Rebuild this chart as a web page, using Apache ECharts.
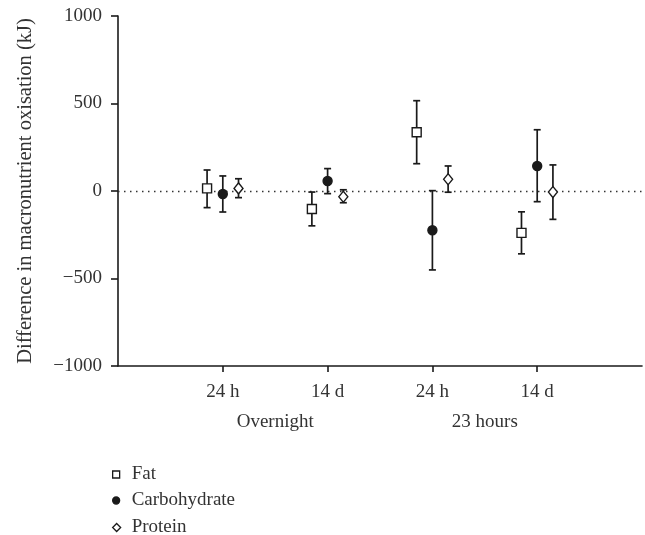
<!DOCTYPE html>
<html>
<head>
<meta charset="utf-8">
<script src="https://cdn.jsdelivr.net/npm/echarts@6/dist/echarts.min.js"></script>
<style>html,body{margin:0;padding:0;background:#fff}#c{width:645px;height:535px}</style>
</head>
<body>
<div id="c"></div>
<script>
// Data
const tickLabels = ['24 h', '14 d', '24 h', '14 d'];
const groupLabels = ['Overnight', '23 hours'];
const seriesNames = ['Fat', 'Carbohydrate', 'Protein'];

const fatMean = [15, -103, 336, -239];
const fatLow = [-95, -199, 156, -359];
const fatHigh = [120, -6, 516, -119];

const carbMean = [-17, 57, -224, 143];
const carbLow = [-120, -15, -451, -61];
const carbHigh = [86, 128, 2, 350];

const protMean = [15, -33, 67, -6];
const protLow = [-38, -67, -7, -162];
const protHigh = [70, 7, 143, 149];

// build
const FONT = 'Liberation Serif';
const INK = '#1a1a1a';
const offsets = [-0.15, 0, 0.15];
const means = [fatMean, carbMean, protMean];
const lows = [fatLow, carbLow, protLow];
const highs = [fatHigh, carbHigh, protHigh];
const symbols = ['rect', 'circle', 'diamond'];
const symSizes = [[9, 9], 9, [9, 11]];
const fills = ['#fff', INK, '#fff'];
const legendIconSize = [[7, 7], [7, 7], [8, 8]];

const series = [];
seriesNames.forEach((name, s) => {
  const errData = means[s].map((m, i) => [i + 1 + offsets[s], lows[s][i], highs[s][i]]);
  series.push({
    type: 'custom',
    name: name + ' err',
    xAxisIndex: 0, yAxisIndex: 0,
    silent: true,
    z: 3,
    data: errData,
    renderItem: function (params, api) {
      const x = api.value(0);
      const lo = api.coord([x, api.value(1)]);
      const hi = api.coord([x, api.value(2)]);
      const hw = 3.5;
      const st = { stroke: INK, lineWidth: 1.7 };
      return {
        type: 'group',
        children: [
          { type: 'line', shape: { x1: lo[0], y1: lo[1], x2: hi[0], y2: hi[1] }, style: st },
          { type: 'line', shape: { x1: lo[0] - hw, y1: lo[1], x2: lo[0] + hw, y2: lo[1] }, style: st },
          { type: 'line', shape: { x1: hi[0] - hw, y1: hi[1], x2: hi[0] + hw, y2: hi[1] }, style: st }
        ]
      };
    }
  });
});
seriesNames.forEach((name, s) => {
  const sObj = {
    type: 'scatter',
    name: name,
    xAxisIndex: 0, yAxisIndex: 0,
    symbol: symbols[s],
    symbolSize: symSizes[s],
    z: 5,
    itemStyle: { color: fills[s], borderColor: INK, borderWidth: 1.4, opacity: 1 },
    data: means[s].map((m, i) => [i + 1 + offsets[s], m])
  };
  if (s === 0) {
    sObj.markLine = {
      silent: true, symbol: 'none', z: 1,
      label: { show: false },
      lineStyle: { type: [1.5, 4.5], color: '#333', width: 1.4 },
      data: [{ yAxis: 0 }]
    };
  }
  series.push(sObj);
});

const legendTops = [465, 491, 518];
const legends = seriesNames.map((n, s) => ({
  orient: 'vertical',
  left: 112, top: legendTops[s],
  padding: 0,
  itemWidth: legendIconSize[s][0], itemHeight: legendIconSize[s][1],
  data: [{ name: n, icon: symbols[s], itemStyle: { color: fills[s], borderColor: INK, borderWidth: 1.3 } }],
  textStyle: { fontFamily: FONT, fontSize: 19, color: '#333', padding: [0, 0, 0, s === 2 ? 6 : 7] },
  selectedMode: false
}));

const chart = echarts.init(document.getElementById('c'), null, { renderer: 'canvas' });
chart.setOption({
  animation: false,
  backgroundColor: '#fff',
  textStyle: { fontFamily: FONT },
  grid: { left: 118, right: 3, top: 16, bottom: 169, containLabel: false },
  legend: legends,
  xAxis: [
    {
      type: 'value', min: 0, max: 5, interval: 1,
      splitLine: { show: false },
      axisLine: { show: true, onZero: false, lineStyle: { color: INK, width: 1.6 } },
      axisTick: { show: true, length: 6, customValues: [1, 2, 3, 4], lineStyle: { color: INK, width: 1.6 } },
      axisLabel: {
        customValues: [1, 2, 3, 4],
        formatter: v => tickLabels[Math.round(v) - 1] || '',
        fontFamily: FONT, fontSize: 19, color: '#333', margin: 17
      }
    },
    {
      type: 'value', min: 0, max: 5, position: 'bottom',
      splitLine: { show: false },
      axisLine: { show: false },
      axisTick: { show: false },
      axisLabel: {
        customValues: [1.5, 3.5],
        formatter: v => groupLabels[v < 2.5 ? 0 : 1],
        fontFamily: FONT, fontSize: 19, color: '#333', margin: 47
      }
    }
  ],
  yAxis: {
    type: 'value', min: -1000, max: 1000, interval: 500,
    name: 'Difference in macronutrient oxisation (kJ)',
    nameLocation: 'middle', nameRotate: 90, nameGap: 82,
    nameTextStyle: { fontFamily: FONT, fontSize: 20.5, color: '#333' },
    splitLine: { show: false },
    axisLine: { show: true, onZero: false, lineStyle: { color: INK, width: 1.6 } },
    axisTick: { show: true, length: 7, lineStyle: { color: INK, width: 1.6 } },
    axisLabel: {
      fontFamily: FONT, fontSize: 19, color: '#333', margin: 16,
      formatter: v => (v < 0 ? '\u2212' + Math.abs(v) : String(v))
    }
  },
  series: series
});
</script>
</body>
</html>
